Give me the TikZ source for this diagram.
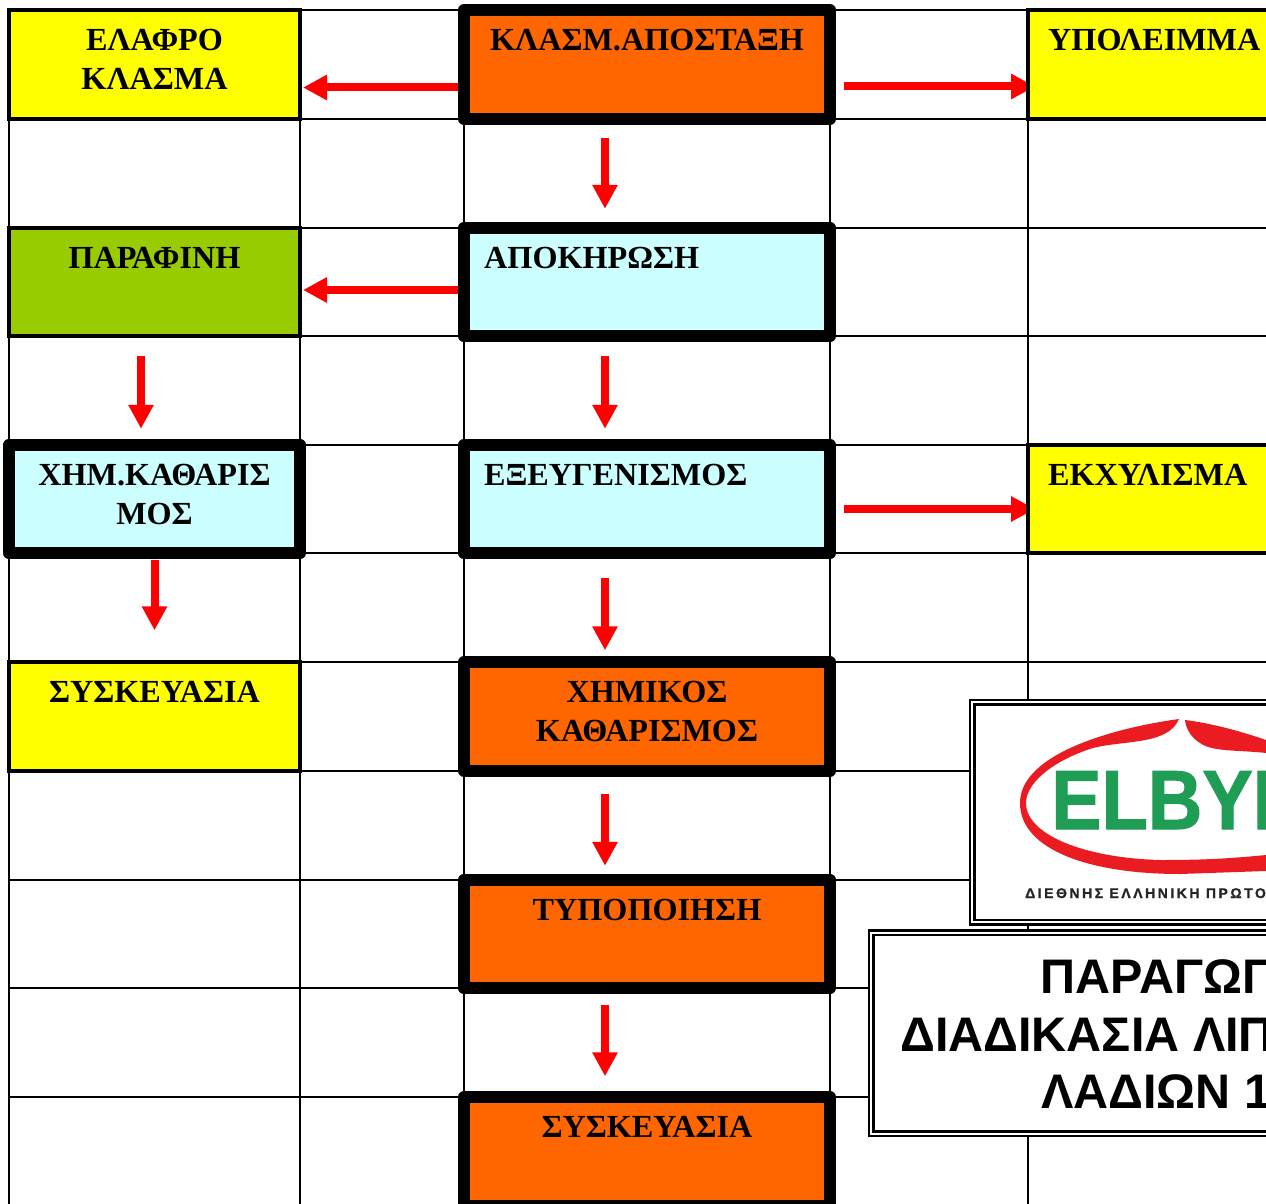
\documentclass[tikz,border=0pt]{standalone}
\usepackage{fontspec}
\setmainfont{Liberation Serif}
\newfontfamily\titlefont{Liberation Sans}
\newfontfamily\logofont[FakeStretch=0.9,FakeBold=1.2]{Liberation Sans}
\newfontfamily\smalllogofont[LetterSpace=18,FakeBold=1]{Liberation Sans}
\usetikzlibrary{arrows.meta}
\definecolor{procorange}{HTML}{FF6600}
\definecolor{procyellow}{HTML}{FFFF00}
\definecolor{proccyan}{HTML}{CCFFFF}
\definecolor{procgreen}{HTML}{99CC00}
\definecolor{logored}{HTML}{EA1C22}
\definecolor{logogreen}{HTML}{1F9D55}
\tikzset{
  gridline/.style={line width=2.2pt,black},
  thickbox/.style={draw=black,line width=12pt,line join=round,outer sep=0pt,inner sep=0pt},
  thinbox/.style={draw=black,line width=4pt,outer sep=0pt,inner sep=0pt},
  leftcell/.style={minimum width=291pt,minimum height=108.5pt},
  midcell/.style={minimum width=366pt,minimum height=108.5pt},
  rightcell/.style={minimum width=300pt,minimum height=108.5pt},
  boxtext/.style={font=\bfseries\fontsize{32.2}{39}\selectfont,align=center,inner sep=0pt,anchor=north},
  boxtextleft/.style={font=\bfseries\fontsize{32.2}{39}\selectfont,inner sep=0pt,anchor=north west},
  titletext/.style={font=\titlefont\bfseries\fontsize{48.5}{58}\selectfont,inner sep=0pt,anchor=base west},
  frame/.style={draw=black,double=white,double distance=2pt,line width=2.5pt,fill=white,outer sep=0pt},
  flow/.style={draw=red,line width=8pt,-{Triangle[length=24pt,width=24pt]}}
}
\begin{document}
\begin{tikzpicture}[x=1pt,y=-1pt]
  \clip (0,0) rectangle (1266,1204);
  \fill[white] (0,0) rectangle (1266,1204);
  % table lines
  \foreach \gx in {9,300,464,830,1028}
    \draw[gridline] (\gx,10) -- (\gx,1204);
  \foreach \gy in {10,119,228,336,445,553,662,771,880,988,1097}
    \draw[gridline] (9,\gy) -- (1266,\gy);
  % left column
  \node[thinbox,leftcell,fill=procyellow] (elafro) at (154.5,64.5) {};
  \node[thinbox,leftcell,fill=procgreen] (parafini) at (154.5,282) {};
  \node[thickbox,leftcell,fill=proccyan] (xhmkath) at (154.5,499) {};
  \node[thinbox,leftcell,fill=procyellow] (syskleft) at (154.5,716.5) {};
  % middle column
  \node[thickbox,midcell,fill=procorange] (klasm) at (647,64.5) {};
  \node[thickbox,midcell,fill=proccyan] (apokir) at (647,282) {};
  \node[thickbox,midcell,fill=proccyan] (exeug) at (647,499) {};
  \node[thickbox,midcell,fill=procorange] (ximikos) at (647,716.5) {};
  \node[thickbox,midcell,fill=procorange] (typop) at (647,934) {};
  \node[thickbox,midcell,fill=procorange] (syskmid) at (647,1151.5) {};
  % arrows to the right go under the yellow boxes
  \coordinate (ypolin) at (1035,86.5);
  \coordinate (ekxylin) at (1035,509);
  \draw[flow] ([xshift=14,yshift=-22]klasm.east) -- (ypolin);
  \draw[flow] ([xshift=14,yshift=-10]exeug.east) -- (ekxylin);
  % right column
  \node[thinbox,rightcell,fill=procyellow] (ypol) at (1178,64.5) {};
  \node[thinbox,rightcell,fill=procyellow] (ekxyl) at (1178,499) {};
  % texts
  \node[boxtext] (elafrotext) at ([yshift=-19]elafro.north) {ΕΛΑΦΡΟ\\ΚΛΑΣΜΑ};
  \node[boxtext] (parafinitext) at ([yshift=-19]parafini.north) {ΠΑΡΑΦΙΝΗ};
  \node[boxtext] (xhmkathtext) at ([yshift=-19]xhmkath.north) {ΧΗΜ.ΚΑΘΑΡΙΣ\\ΜΟΣ};
  \node[boxtext] (syskefttext) at ([yshift=-19]syskleft.north) {ΣΥΣΚΕΥΑΣΙΑ};
  \node[boxtext] (klasmtext) at ([yshift=-19]klasm.north) {ΚΛΑΣΜ.ΑΠΟΣΤΑΞΗ};
  \node[boxtextleft] (apokirtext) at ([xshift=20,yshift=-19]apokir.north west) {ΑΠΟΚΗΡΩΣΗ};
  \node[boxtextleft] (exeugtext) at ([xshift=20,yshift=-19]exeug.north west) {ΕΞΕΥΓΕΝΙΣΜΟΣ};
  \node[boxtext] (ximikostext) at ([yshift=-19]ximikos.north) {ΧΗΜΙΚΟΣ\\ΚΑΘΑΡΙΣΜΟΣ};
  \node[boxtext] (typoptext) at ([yshift=-19]typop.north) {ΤΥΠΟΠΟΙΗΣΗ};
  \node[boxtext] (syskmidtext) at ([yshift=-19]syskmid.north) {ΣΥΣΚΕΥΑΣΙΑ};
  \node[boxtextleft] (ypoltext) at ([xshift=20,yshift=-19]ypol.north west) {ΥΠΟΛΕΙΜΜΑ};
  \node[boxtextleft] (ekxyltext) at ([xshift=20,yshift=-19]ekxyl.north west) {ΕΚΧΥΛΙΣΜΑ};
  % arrows
  \draw[flow] ([xshift=-6,yshift=-23]klasm.west) -- ([xshift=3,yshift=-23]elafro.east);
  \draw[flow] ([xshift=-42,yshift=-19]klasm.south) -- ([xshift=-42,yshift=19]apokir.north);
  \draw[flow] ([xshift=-6,yshift=-8]apokir.west) -- ([xshift=3,yshift=-8]parafini.east);
  \draw[flow] ([xshift=-42,yshift=-20]apokir.south) -- ([xshift=-42,yshift=16]exeug.north);
  \draw[flow] ([xshift=-13.5,yshift=-20]parafini.south) -- ([xshift=-13.5,yshift=16]xhmkath.north);
  \draw[flow] ([yshift=-7]xhmkath.south) -- ([yshift=32]syskleft.north);
  \draw[flow] ([xshift=-42,yshift=-25]exeug.south) -- ([xshift=-42,yshift=12]ximikos.north);
  \draw[flow] ([xshift=-42,yshift=-23]ximikos.south) -- ([xshift=-42,yshift=14]typop.north);
  \draw[flow] ([xshift=-42,yshift=-17]typop.south) -- ([xshift=-42,yshift=21]syskmid.north);
  % logo
  \node[frame,minimum width=500pt,minimum height=220pt] (logobox) at (1222,812) {};
  \fill[logored] (1179,719) .. controls (1120,727) and (1020,752) .. (1020,803)
    .. controls (1020,850) and (1090,874) .. (1180,874) -- (1266,871) -- (1266,855)
    .. controls (1225,859) and (1200,860) .. (1160,860)
    .. controls (1085,858) and (1026,835) .. (1026,803)
    .. controls (1026,780) and (1060,758) .. (1093,748)
    .. controls (1125,740) and (1168,745) .. cycle;
  \fill[logored] (1185,720) .. controls (1210,723) and (1240,731) .. (1266,740) -- (1266,753)
    .. controls (1240,750) and (1212,752) .. (1200,743)
    .. controls (1192,738) and (1186,730) .. cycle;
  \node[font=\logofont\bfseries\fontsize{84}{84}\selectfont,text=logogreen,inner sep=0pt,anchor=base west] (logoname) at (1051,829) {ELBYI};
  \node[font=\smalllogofont\bfseries\fontsize{14}{14}\selectfont,text=black!85,inner sep=0pt,anchor=base west] (logoline) at (1025,898) {ΔΙΕΘΝΗΣ ΕΛΛΗΝΙΚΗ ΠΡΩΤΟ};
  % title
  \node[frame,minimum width=700pt,minimum height=201pt] (titlebox) at (1221,1033) {};
  \node[titletext] (titleone) at (1040,993) {ΠΑΡΑΓΩΓ};
  \node[titletext] (titletwo) at (900,1051) {ΔΙΑΔΙΚΑΣΙΑ ΛΙΠ};
  \node[titletext] (titlethree) at (1041,1108) {ΛΑΔΙΩΝ 1};
\end{tikzpicture}
\end{document}
